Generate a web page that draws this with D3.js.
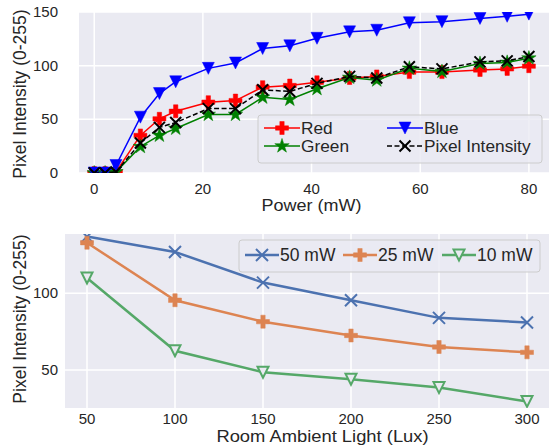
<!DOCTYPE html>
<html>
<head>
<meta charset="utf-8">
<script src="https://cdn.jsdelivr.net/npm/d3@7"></script>
<style>
  body { margin: 0; background: #fff; }
  text { font-family: "Liberation Sans", Arial, sans-serif; fill: #262626; }
</style>
</head>
<body>
<div id="chart"></div>
<script>
// top panel data: power sweep
const power = [0, 2, 4, 8.5, 12, 15, 21, 26, 31, 36, 41, 47, 52, 58, 64, 71, 76, 80];
const red   = [0, 0, 1, 35, 50.5, 57.5, 66, 67.5, 80, 81.5, 84.5, 88.5, 90, 94, 94, 96, 97, 99.5];
const green = [0, 0, 1, 24.5, 35, 41.5, 54.5, 54.5, 70.5, 68.5, 78.5, 89, 86.5, 97.5, 94.5, 102, 103, 107];
const blue  = [0, 0, 7, 52, 74, 85, 97.5, 102.5, 116, 118.5, 125.5, 131.5, 133, 140, 141, 144, 146, 148];
const pixel = [0, 0, 1, 28, 42.5, 47, 60, 60, 77.5, 76, 83.5, 90, 88.5, 99, 97, 103.5, 104.5, 108.5];
const powerTicks = [0, 20, 40, 60, 80];
const topYTicks = [0, 50, 100, 150];

// bottom panel data: ambient light sweep
const lux  = [50, 100, 150, 200, 250, 300];
const mw50 = [137, 127, 107, 95.5, 84, 81];
const mw25 = [133, 95.5, 81.5, 72.5, 65, 61.5];
const mw10 = [110, 62.5, 48.5, 44, 38.5, 29.5];
const luxTicks = [50, 100, 150, 200, 250, 300];
const botYTicks = [50, 100];

const width = 553, height = 447;
const svg = d3.select("#chart").append("svg")
  .attr("width", width).attr("height", height);

// marker shapes
function markerPath(type, s) {
  const r = s / 2;
  if (type === "plus") {
    const a = s / 6;
    return `M${-a},${-r}H${a}V${-a}H${r}V${a}H${a}V${r}H${-a}V${a}H${-r}V${-a}H${-a}Z`;
  }
  if (type === "tri") return `M0,${r}L${-r},${-r}L${r},${-r}Z`;
  if (type === "x") return `M${-r},${-r}L${r},${r}M${-r},${r}L${r},${-r}`;
  if (type === "star") return d3.symbol(d3.symbolStar, s * s * 0.45)();
}

function drawMarker(g, type, s, color, hollow, sw) {
  const p = g.append("path").attr("d", markerPath(type, s));
  if (type === "x") p.attr("fill", "none").attr("stroke", color).attr("stroke-width", sw || 2);
  else if (hollow) p.attr("fill", "#EAEAF2").attr("stroke", color).attr("stroke-width", sw || 2);
  else p.attr("fill", color).attr("stroke", color).attr("stroke-width", 0.5);
  return p;
}

function panel(box, xScale, yScale, xTicks, yTicks, id) {
  svg.append("rect").attr("x", box.l).attr("y", box.t)
    .attr("width", box.r - box.l).attr("height", box.b - box.t).attr("fill", "#EAEAF2");
  svg.append("clipPath").attr("id", id).append("rect")
    .attr("x", box.l).attr("y", box.t).attr("width", box.r - box.l).attr("height", box.b - box.t);
  const grid = svg.append("g");
  grid.selectAll(".gx").data(xTicks).enter().append("line")
    .attr("x1", d => xScale(d)).attr("x2", d => xScale(d))
    .attr("y1", box.t).attr("y2", box.b)
    .attr("stroke", "#fff").attr("stroke-width", 1.5);
  grid.selectAll(".gy").data(yTicks).enter().append("line")
    .attr("y1", d => yScale(d)).attr("y2", d => yScale(d))
    .attr("x1", box.l).attr("x2", box.r)
    .attr("stroke", "#fff").attr("stroke-width", 1.5);
  return svg.append("g").attr("clip-path", `url(#${id})`);
}

function series(g, xs, ys, xScale, yScale, o) {
  const pts = xs.map((x, i) => [xScale(x), yScale(ys[i])]);
  g.append("path").attr("d", d3.line()(pts)).attr("fill", "none")
    .attr("stroke", o.color).attr("stroke-width", o.lw)
    .attr("stroke-dasharray", o.dash || null);
  pts.forEach(p => {
    const m = g.append("g").attr("transform", `translate(${p[0]},${p[1]})`);
    drawMarker(m, o.marker, o.size, o.color, o.hollow, o.msw);
  });
}

// ---------- TOP PANEL ----------
const topBox = { l: 79, r: 549, t: 12, b: 173 };
const x1 = d3.scaleLinear().domain([-2.8, 83.7]).range([topBox.l, topBox.r]);
const y1 = d3.scaleLinear().domain([0, 150]).range([topBox.b, topBox.t]);
const g1 = panel(topBox, x1, y1, powerTicks, topYTicks, "clipTop");

const topSeries = [
  { name: "Red", data: red, color: "#ff0000", marker: "plus", size: 13, lw: 1.5 },
  { name: "Green", data: green, color: "#008000", marker: "star", size: 12, lw: 1.5 },
  { name: "Blue", data: blue, color: "#0000ff", marker: "tri", size: 12, lw: 1.5 },
  { name: "Pixel Intensity", data: pixel, color: "#000000", marker: "x", size: 11, lw: 1.5, dash: "5,2.5", msw: 2 }
];
topSeries.forEach(s => series(g1, power, s.data, x1, y1, s));

svg.selectAll(".xt1").data(powerTicks).enter().append("text")
  .attr("x", d => x1(d)).attr("y", 194).attr("text-anchor", "middle")
  .attr("font-size", 15).text(d => d);
svg.selectAll(".yt1").data(topYTicks).enter().append("text")
  .attr("x", 58).attr("y", d => y1(d) + 5).attr("text-anchor", "end")
  .attr("font-size", 15).text(d => d);
svg.append("text").attr("x", x1(40)).attr("y", 211).attr("text-anchor", "middle")
  .attr("font-size", 17).attr("transform", `translate(${x1(40)},0) scale(1.06,1) translate(${-x1(40)},0)`)
  .text("Power (mW)");
svg.append("text").attr("transform", "translate(26,94) rotate(-90)")
  .attr("text-anchor", "middle").attr("font-size", 17.5).text("Pixel Intensity (0-255)");

// top legend
const leg1 = svg.append("g");
leg1.append("rect").attr("x", 258).attr("y", 115).attr("width", 284).attr("height", 48)
  .attr("rx", 3).attr("fill", "#EAEAF2").attr("fill-opacity", 0.8)
  .attr("stroke", "#cccccc").attr("stroke-width", 1);
const legPos1 = [[264, 128], [264, 146], [387, 128], [387, 146]];
topSeries.forEach((s, i) => {
  const [lx, ly] = legPos1[i];
  leg1.append("line").attr("x1", lx).attr("x2", lx + 36).attr("y1", ly).attr("y2", ly)
    .attr("stroke", s.color).attr("stroke-width", 1.5).attr("stroke-dasharray", s.dash || null);
  const m = leg1.append("g").attr("transform", `translate(${lx + 18},${ly})`);
  drawMarker(m, s.marker, s.size, s.color, false, s.msw);
  leg1.append("text").attr("x", lx + 37).attr("y", ly + 6).attr("font-size", 16)
    .attr("transform", `translate(${lx + 37},0) scale(1.08,1) translate(${-(lx + 37)},0)`)
    .text(s.name);
});

// ---------- BOTTOM PANEL ----------
const botBox = { l: 65, r: 549, t: 234, b: 408 };
const x2 = d3.scaleLinear().domain([37.5, 312.5]).range([botBox.l, botBox.r]);
const y2 = d3.scaleLinear().domain([25.2, 138.7]).range([botBox.b, botBox.t]);
const g2 = panel(botBox, x2, y2, luxTicks, botYTicks, "clipBot");

const botSeries = [
  { name: "50 mW", data: mw50, color: "#4C72B0", marker: "x", size: 12, lw: 2.5, msw: 2 },
  { name: "25 mW", data: mw25, color: "#DD8452", marker: "plus", size: 13, lw: 2.5 },
  { name: "10 mW", data: mw10, color: "#55A868", marker: "tri", size: 11, lw: 2.5, hollow: true, msw: 2 }
];
botSeries.forEach(s => series(g2, lux, s.data, x2, y2, s));

svg.selectAll(".xt2").data(luxTicks).enter().append("text")
  .attr("x", d => x2(d)).attr("y", 424).attr("text-anchor", "middle")
  .attr("font-size", 15).text(d => d);
svg.selectAll(".yt2").data(botYTicks).enter().append("text")
  .attr("x", 58).attr("y", d => y2(d) + 5).attr("text-anchor", "end")
  .attr("font-size", 15).text(d => d);
const bxl = (213 + 432) / 2;
svg.append("text").attr("x", bxl).attr("y", 442).attr("text-anchor", "middle")
  .attr("font-size", 17).attr("transform", `translate(${bxl},0) scale(1.08,1) translate(${-bxl},0)`)
  .text("Room Ambient Light (Lux)");
svg.append("text").attr("transform", "translate(26,319) rotate(-90)")
  .attr("text-anchor", "middle").attr("font-size", 17.5).text("Pixel Intensity (0-255)");

// bottom legend
const leg2 = svg.append("g");
leg2.append("rect").attr("x", 239).attr("y", 240).attr("width", 301).attr("height", 32)
  .attr("rx", 3).attr("fill", "#EAEAF2").attr("fill-opacity", 0.8)
  .attr("stroke", "#cccccc").attr("stroke-width", 1);
const legX2 = [245, 343, 442];
botSeries.forEach((s, i) => {
  const lx = legX2[i], ly = 255;
  leg2.append("line").attr("x1", lx).attr("x2", lx + 34).attr("y1", ly).attr("y2", ly)
    .attr("stroke", s.color).attr("stroke-width", 2.5);
  const m = leg2.append("g").attr("transform", `translate(${lx + 17},${ly})`);
  drawMarker(m, s.marker, s.size, s.color, s.hollow, s.msw);
  leg2.append("text").attr("x", lx + 35).attr("y", ly + 6).attr("font-size", 17.5).text(s.name);
});
</script>
</body>
</html>
